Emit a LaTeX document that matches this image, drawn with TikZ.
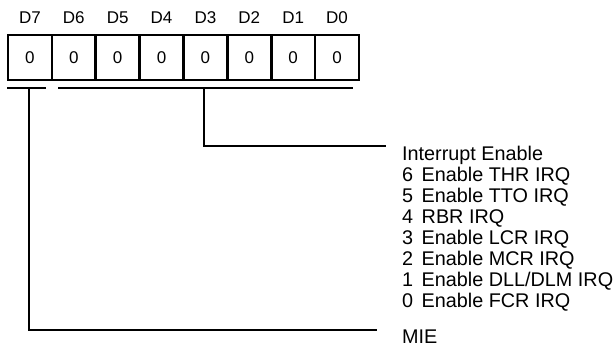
\documentclass[tikz,border=0pt]{standalone}
\usepackage{fontspec}
\setmainfont{Liberation Sans}
\begin{document}
\begin{tikzpicture}[x=1pt,y=-1pt,
  cellbox/.style={draw,line width=2.6pt,minimum width=43.875pt,minimum height=45pt,inner sep=0pt,font=\fontsize{17}{20}\selectfont},
  hdr/.style={inner sep=0pt,font=\fontsize{17}{20}\selectfont},
  bar/.style={line width=2.6pt},
  wire/.style={line width=2.6pt},
  lst/.style={anchor=west,inner sep=0pt,font=\fontsize{19.8}{21}\selectfont}]
\useasboundingbox (0,0) rectangle (616,348);
\newcommand{\gp}{\ \hspace{3pt}}
\foreach \i in {0,...,7}{
  \pgfmathsetmacro{\cx}{8+43.875*(7-\i)+21.9375}
  \node[cellbox] (c\i) at (\cx,57.5) {0};
  \node[hdr] (h\i) at (\cx,18) {D\i};
}
\coordinate (b7l) at (7,88);
\coordinate (b7r) at (46,88);
\coordinate (b7m) at (29,88);
\coordinate (bal) at (58,88);
\coordinate (bar) at (353,88);
\coordinate (bam) at (204,88);
\draw[bar] (b7l) -- (b7r);
\draw[bar] (bal) -- (bar);
\node[lst] (t0) at (402,155) {Interrupt Enable};
\node[lst] (t1) at (402,176) {6\gp Enable THR IRQ};
\node[lst] (t2) at (402,197) {5\gp Enable TTO IRQ};
\node[lst] (t3) at (402,218) {4\gp RBR IRQ};
\node[lst] (t4) at (402,239) {3\gp Enable LCR IRQ};
\node[lst] (t5) at (402,260) {2\gp Enable MCR IRQ};
\node[lst] (t6) at (402,281) {1\gp Enable DLL/DLM IRQ};
\node[lst] (t7) at (402,302) {0\gp Enable FCR IRQ};
\node[lst] (mie) at (402,337) {MIE};
\coordinate (e1) at (386,146);
\coordinate (e2) at (377,330);
\draw[wire] (bam) |- (e1);
\draw[wire] (b7m) |- (e2);
\end{tikzpicture}
\end{document}
